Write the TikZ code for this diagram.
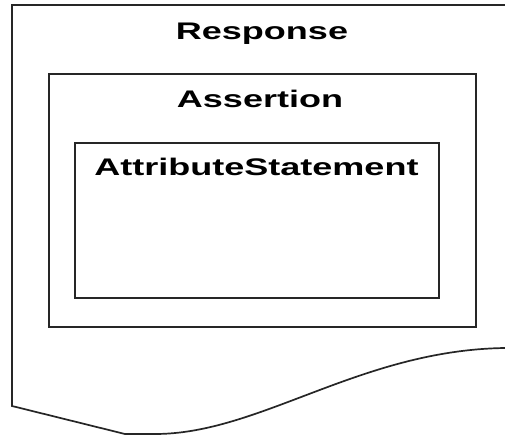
\documentclass[tikz,border=0pt]{standalone}
\usepackage{fontspec}
\setmainfont{Liberation Sans}
\begin{document}
\begin{tikzpicture}[x=1pt,y=-1pt,
  outline/.style={draw=black!85,line width=1.7pt},
  frame/.style={outline,rectangle,inner sep=0pt,anchor=north west},
  title/.style={anchor=base,inner sep=0pt,font=\fontsize{24}{28}\selectfont\bfseries}]
\useasboundingbox (0,0) rectangle (505,436);
% document outline with a wavy lower edge
\draw[outline,line join=miter] (505,5) -- (12,5) -- (12,406) -- (125,434) -- (155,434)
  .. controls (260,434) and (360,350) .. (505,348);
\node[title] (response) at (262,40) {\scalebox{1.5}[1]{Response}};
% nested boxes
\node[frame,minimum width=427pt,minimum height=253pt] (assertion) at (48,73) {};
\node[title] (assertionlabel) at (260,107) {\scalebox{1.5}[1]{Assertion}};
\node[frame,minimum width=364pt,minimum height=155pt] (attrstmt) at (74,142) {};
\node[title] (attrlabel) at (256.5,175) {\scalebox{1.5}[1]{AttributeStatement}};
\end{tikzpicture}
\end{document}
